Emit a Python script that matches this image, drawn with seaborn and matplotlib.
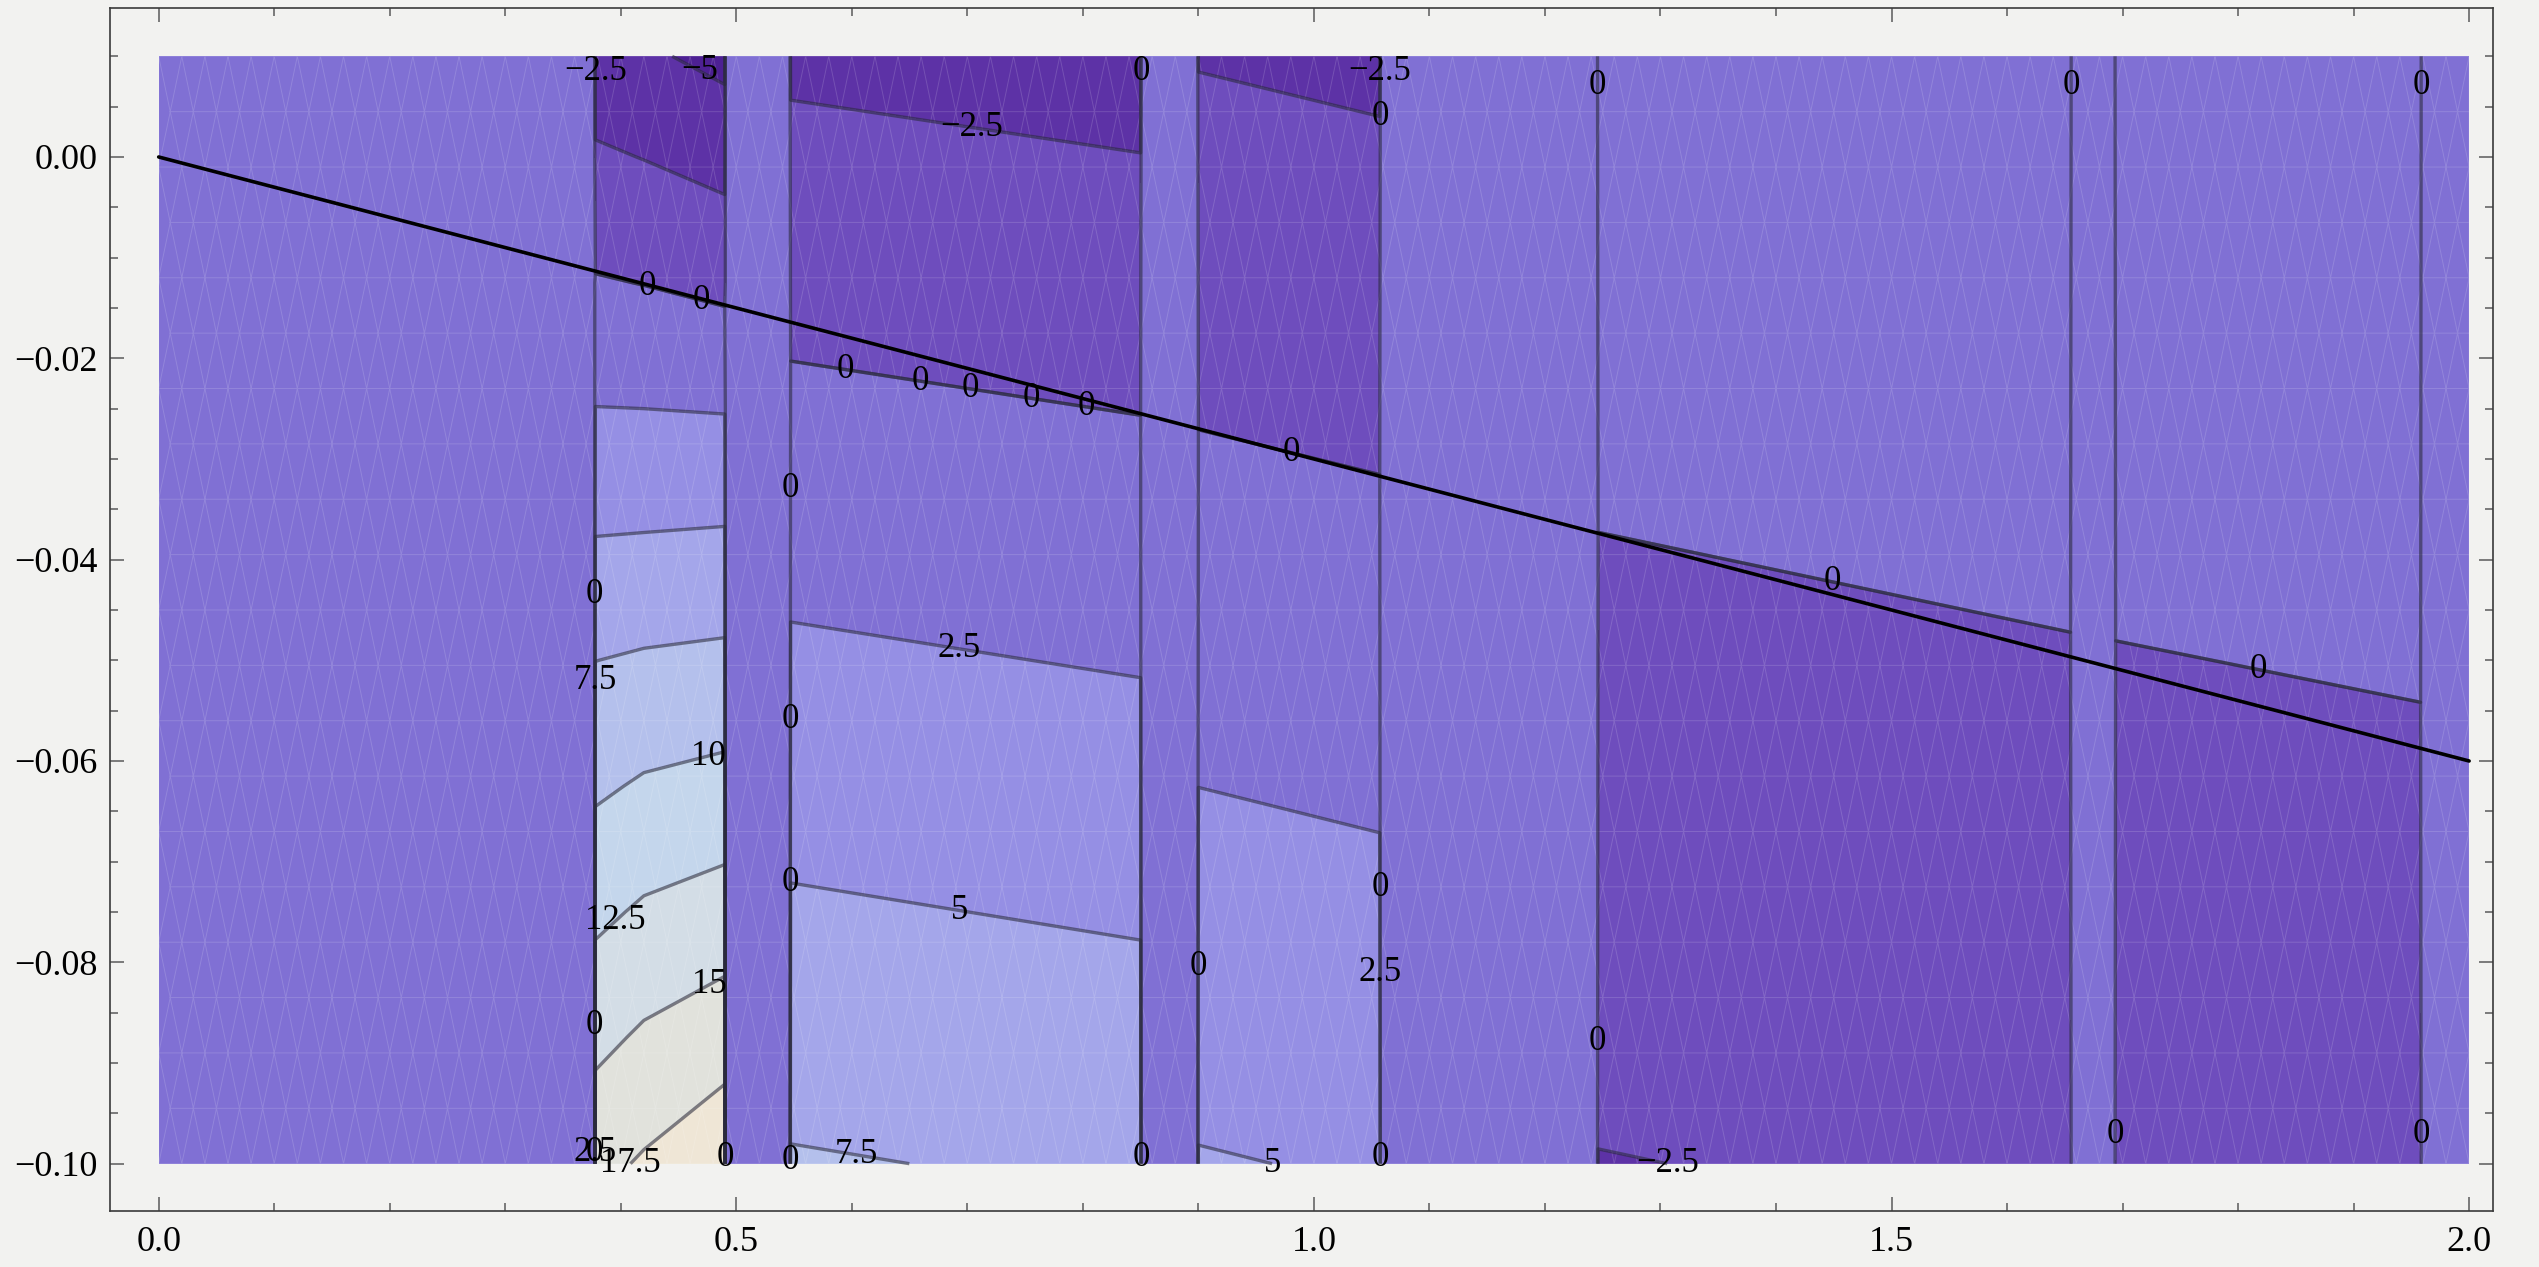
import numpy as np
import matplotlib
matplotlib.use("Agg")
import matplotlib.pyplot as plt
import matplotlib.tri as mtri
from matplotlib.ticker import MultipleLocator, FuncFormatter
import seaborn as sns

sns.set_theme(style="ticks")
plt.rcParams["font.family"] = ["Liberation Serif", "DejaVu Serif"]
plt.rcParams["contour.negative_linestyle"] = "solid"

# contour levels (-1e-6 is the lower edge of the band that holds exactly 0)
levels = [-7.5, -5, -2.5, -1e-6, 2.5, 5, 7.5, 10, 12.5, 15, 17.5, 20]
line_levels = [-7.5, -5, -2.5, -1e-6, 0, 2.5, 5, 7.5, 10, 12.5, 15, 17.5, 20]
band_colors = ["#4d2093", "#5d32a6", "#6e4dbd", "#8070d4", "#958fe4",
               "#a4a6ea", "#b4c0ec", "#c4d6ec", "#d3dde6", "#e1e2dc", "#efe6d6"]

# the field is 0 outside the strips
# plain strips: edges and values at the four corners
strip_x0 = [0.547, 0.900, 1.246, 1.694]
strip_x1 = [0.850, 1.057, 1.655, 1.958]
top_left = [-2.92, -2.61, 1.93, 2.37]
top_right = [-3.42, -2.92, 2.33, 2.45]
bottom_left = [7.69, 5.13, -2.56, -2.12]
bottom_right = [7.13, 4.81, -2.15, -1.75]

# the strip near x = 0.4 whose contours bend
bend_x = [0.378, 0.420, 0.490]
bend_y = [-0.1, -0.0875, -0.075, -0.0625, -0.05, -0.0375, -0.025, -0.0125, 0.0, 0.01]
bend_left = [16.79, 14.38, 11.97, 9.62, 7.48, 4.96, 2.54, 0.17, -2.18, -4.06]
bend_mid = [17.77, 15.35, 12.83, 10.27, 7.76, 5.04, 2.50, -0.05, -2.56, -4.65]
bend_right = [19.42, 16.38, 13.56, 10.75, 8.01, 5.18, 2.38, -0.55, -3.33, -5.65]

# straight line across the plot
line_x = [0.0, 2.0]
line_y = [0.0, -0.06]

# contour labels as they sit in the picture
label_val = [-2.5, -5, 0, -2.5, 0, -2.5, 0, 0, 0, 0, 0, 0, 0, 0, 0, 0, 0, 0, 0, 0,
             0, 7.5, 10, 2.5, 0, 12.5, 15, 5, 0, 0, 0, 2.5, 0, 0, 2.5, 0, 17.5,
             0, 0, 7.5, 0, 5, 0, -2.5, 0, 0]
label_x = [0.381, 0.468, 0.852, 1.051, 1.061, 0.704, 1.246, 1.652, 1.959, 0.423,
           0.470, 0.594, 0.659, 0.702, 0.755, 0.803, 0.980, 0.534, 1.449, 1.818,
           0.377, 0.378, 0.475, 0.692, 0.547, 0.395, 0.474, 0.692, 0.547, 1.051,
           0.897, 1.048, 0.377, 1.246, 0.370, 0.373, 0.406, 0.488, 0.548, 0.603,
           0.849, 0.970, 1.048, 1.306, 1.693, 1.950]
label_y = [0.0085, 0.0085, 0.0085, 0.0085, 0.004, 0.0032, 0.0071, 0.0071, 0.0071,
           -0.0129, -0.0142, -0.0214, -0.0225, -0.0232, -0.0240, -0.0248, -0.0296,
           -0.0329, -0.0420, -0.0507, -0.0435, -0.052, -0.0593, -0.0493, -0.0559,
           -0.0758, -0.0816, -0.0755, -0.0721, -0.0726, -0.0804, -0.0810, -0.0863,
           -0.0879, -0.0989, -0.0989, -0.1, -0.0994, -0.0997, -0.1, -0.0994, -0.1,
           -0.0994, -0.1, -0.0971, -0.0971]

paper = "#f2f2f0"
fig = plt.figure(figsize=(25.39, 12.67), dpi=100, facecolor=paper)
ax = fig.add_axes([0.0433, 0.0442, 0.9386, 0.9495])
ax.set_facecolor(paper)
ax.set_xlim(-0.0422, 2.0207)
ax.set_ylim(-0.1047, 0.0148)

# background value everywhere
ax.contourf([0, 2], [-0.1, 0.01], np.zeros((2, 2)), levels=levels,
            colors=band_colors, zorder=1)

eps = 0.0005
line_style = dict(levels=line_levels, colors="#2a2a3c", linewidths=2.4,
                  alpha=0.58, linestyles="solid", zorder=3)
grids = []
for x0, x1, tl, tr, bl, br in zip(strip_x0, strip_x1, top_left, top_right,
                                  bottom_left, bottom_right):
    gx = [x0 - eps, x0, x1, x1 + eps]
    gy = [-0.1, 0.01]
    gz = np.array([[0, bl, br, 0], [0, tl, tr, 0]])
    grids.append((x0 - 0.03, x1 + 0.03, gx, gy, gz))

gx = [bend_x[0] - eps] + bend_x + [bend_x[-1] + eps]
zero = np.zeros(len(bend_y))
gz = np.column_stack([zero, bend_left, bend_mid, bend_right, zero])
grids.insert(0, (bend_x[0] - 0.03, bend_x[-1] + 0.03, gx, bend_y, gz))

for lo, hi, gx, gy, gz in grids:
    ax.contourf(gx, gy, gz, levels=levels, colors=band_colors, zorder=1)
    ax.contour(gx, gy, gz, **line_style)

# faint render mesh over the fills
mx, my = np.meshgrid(np.arange(0, 2.0001, 0.02), np.arange(-0.1, 0.01001, 0.0055))
mx[1::2] += 0.01
mx = np.minimum(mx, 2.0)
d = mtri.Triangulation(mx.ravel(), my.ravel() * 3.64)
mesh = mtri.Triangulation(mx.ravel(), my.ravel(), d.triangles)
ax.triplot(mesh, "-", color="white", lw=0.7, alpha=0.15, zorder=2)

sns.lineplot(x=line_x, y=line_y, color="black", linewidth=2.6, ax=ax, zorder=4)


def fmt(v):
    if abs(v) < 1e-3:
        return "0"
    return f"{v:g}".replace("-", "\u2212")


# each label sits on the nearest line of its own level
for val, lx, ly in zip(label_val, label_x, label_y):
    for lo, hi, gx, gy, gz in grids:
        if lo <= lx <= hi:
            levs = [-1e-6, 0] if val == 0 else [val]
            cl = ax.contour(gx, gy, gz, levels=levs, colors="black",
                            linewidths=0, zorder=5)
            cl.clabel(manual=[(lx, ly)], inline=False, fmt=fmt,
                      fontsize=25, colors="black", zorder=5)
            break

for t in ax.texts:
    t.set_rotation(0)

ax.xaxis.set_major_locator(MultipleLocator(0.5))
ax.xaxis.set_minor_locator(MultipleLocator(0.1))
ax.yaxis.set_major_locator(MultipleLocator(0.02))
ax.yaxis.set_minor_locator(MultipleLocator(0.005))
ax.xaxis.set_major_formatter(FuncFormatter(lambda v, p: f"{v:.1f}"))


def yfmt(v, p):
    if abs(v) < 1e-9:
        v = 0.0
    return f"{v:.2f}".replace("-", "\u2212")


ax.yaxis.set_major_formatter(FuncFormatter(yfmt))
ax.tick_params(which="both", direction="in", top=True, right=True,
               color="#5a5a5a", width=1.1)
ax.tick_params(which="major", length=10, labelsize=26, labelcolor="black")
ax.tick_params(axis="x", which="major", pad=11)
ax.tick_params(axis="y", which="major", pad=9)
ax.tick_params(which="minor", length=5.5)
for s in ax.spines.values():
    s.set_color("#3a3a3a")
    s.set_linewidth(1.2)

fig.savefig("out.png", dpi=100, facecolor=paper)
